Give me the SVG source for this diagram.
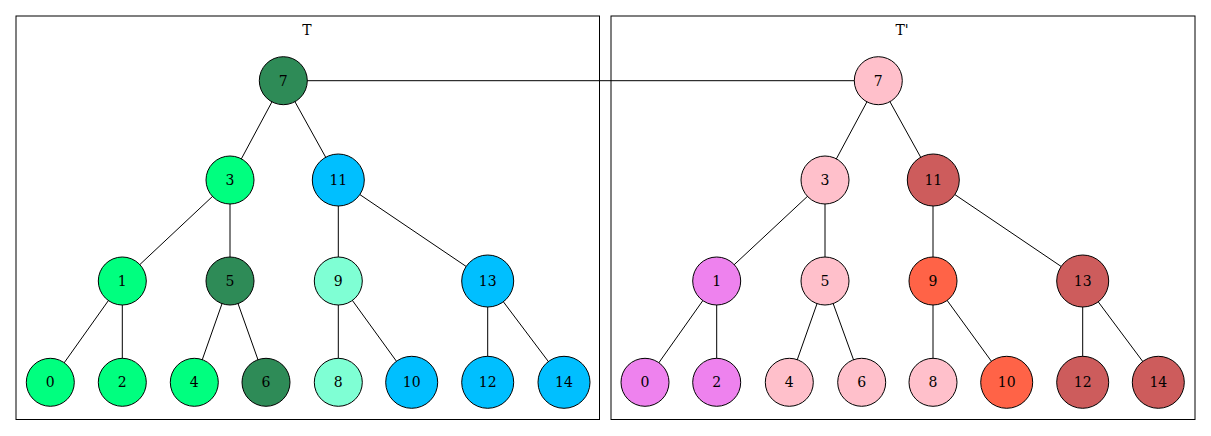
<svg xmlns="http://www.w3.org/2000/svg" width="1211" height="436" viewBox="0 0 1211 436">
<style>
.cl{fill:none;stroke:#000;stroke-width:1}
.e{stroke:#000;stroke-width:1}
.n circle{stroke:#000;stroke-width:1}
text{font-family:"DejaVu Serif","Liberation Serif",serif;font-size:14px;text-anchor:middle;fill:#000}
</style>
<rect width="1211" height="436" fill="#fff"/>
<g id="clusters">
<rect class="cl" x="16" y="16" width="583.5" height="403.5"/>
<text x="307" y="35">T</text>
<rect class="cl" x="611" y="16" width="584" height="403.5"/>
<text x="902" y="35">T'</text>
</g>
<g id="connectors">
<line class="e" x1="283.3" y1="80.7" x2="878.3" y2="80.7"/>
<line class="e" x1="283.3" y1="80.7" x2="230" y2="180"/>
<line class="e" x1="283.3" y1="80.7" x2="338.3" y2="180"/>
<line class="e" x1="230" y1="180" x2="122.3" y2="281"/>
<line class="e" x1="230" y1="180" x2="230" y2="281"/>
<line class="e" x1="338.3" y1="180" x2="338.3" y2="281"/>
<line class="e" x1="338.3" y1="180" x2="487.7" y2="281"/>
<line class="e" x1="122.3" y1="281" x2="50.3" y2="382.3"/>
<line class="e" x1="122.3" y1="281" x2="122.3" y2="382.3"/>
<line class="e" x1="230" y1="281" x2="194.3" y2="382.3"/>
<line class="e" x1="230" y1="281" x2="266" y2="382.3"/>
<line class="e" x1="338.3" y1="281" x2="338.3" y2="382.3"/>
<line class="e" x1="338.3" y1="281" x2="411.7" y2="382.3"/>
<line class="e" x1="487.7" y1="281" x2="487.7" y2="382.3"/>
<line class="e" x1="487.7" y1="281" x2="564" y2="382.3"/>
<line class="e" x1="878.3" y1="80.7" x2="825" y2="180"/>
<line class="e" x1="878.3" y1="80.7" x2="933.3" y2="180"/>
<line class="e" x1="825" y1="180" x2="716.7" y2="281"/>
<line class="e" x1="825" y1="180" x2="825" y2="281"/>
<line class="e" x1="933" y1="180" x2="933" y2="281"/>
<line class="e" x1="933.3" y1="180" x2="1082.7" y2="281"/>
<line class="e" x1="716.7" y1="281" x2="645" y2="382.3"/>
<line class="e" x1="716.7" y1="281" x2="716.7" y2="382.3"/>
<line class="e" x1="825" y1="281" x2="789.3" y2="382.3"/>
<line class="e" x1="825" y1="281" x2="861.7" y2="382.3"/>
<line class="e" x1="933" y1="281" x2="933" y2="382.3"/>
<line class="e" x1="933" y1="281" x2="1006.7" y2="382.3"/>
<line class="e" x1="1082.7" y1="281" x2="1082.7" y2="382.3"/>
<line class="e" x1="1082.7" y1="281" x2="1158.3" y2="382.3"/>
</g>
<g id="T7" class="n"><circle cx="283.3" cy="80.7" r="24" fill="#2e8b57"/><text x="283.3" y="85.7">7</text></g>
<g id="T3" class="n"><circle cx="230" cy="180" r="24" fill="#00ff7f"/><text x="230" y="185">3</text></g>
<g id="T11" class="n"><circle cx="338.3" cy="180" r="26" fill="#00bfff"/><text x="338.3" y="185">11</text></g>
<g id="T1" class="n"><circle cx="122.3" cy="281" r="24" fill="#00ff7f"/><text x="122.3" y="286">1</text></g>
<g id="T5" class="n"><circle cx="230" cy="281" r="24" fill="#2e8b57"/><text x="230" y="286">5</text></g>
<g id="T9" class="n"><circle cx="338.3" cy="281" r="24" fill="#7fffd4"/><text x="338.3" y="286">9</text></g>
<g id="T13" class="n"><circle cx="487.7" cy="281" r="26" fill="#00bfff"/><text x="487.7" y="286">13</text></g>
<g id="T0" class="n"><circle cx="50.3" cy="382.3" r="24" fill="#00ff7f"/><text x="50.3" y="387.3">0</text></g>
<g id="T2" class="n"><circle cx="122.3" cy="382.3" r="24" fill="#00ff7f"/><text x="122.3" y="387.3">2</text></g>
<g id="T4" class="n"><circle cx="194.3" cy="382.3" r="24" fill="#00ff7f"/><text x="194.3" y="387.3">4</text></g>
<g id="T6" class="n"><circle cx="266" cy="382.3" r="24" fill="#2e8b57"/><text x="266" y="387.3">6</text></g>
<g id="T8" class="n"><circle cx="338.3" cy="382.3" r="24" fill="#7fffd4"/><text x="338.3" y="387.3">8</text></g>
<g id="T10" class="n"><circle cx="411.7" cy="382.3" r="26" fill="#00bfff"/><text x="411.7" y="387.3">10</text></g>
<g id="T12" class="n"><circle cx="487.7" cy="382.3" r="26" fill="#00bfff"/><text x="487.7" y="387.3">12</text></g>
<g id="T14" class="n"><circle cx="564" cy="382.3" r="26" fill="#00bfff"/><text x="564" y="387.3">14</text></g>
<g id="P7" class="n"><circle cx="878.3" cy="80.7" r="24" fill="#ffc0cb"/><text x="878.3" y="85.7">7</text></g>
<g id="P3" class="n"><circle cx="825" cy="180" r="24" fill="#ffc0cb"/><text x="825" y="185">3</text></g>
<g id="P11" class="n"><circle cx="933.3" cy="180" r="26" fill="#cd5c5c"/><text x="933.3" y="185">11</text></g>
<g id="P1" class="n"><circle cx="716.7" cy="281" r="24" fill="#ee82ee"/><text x="716.7" y="286">1</text></g>
<g id="P5" class="n"><circle cx="825" cy="281" r="24" fill="#ffc0cb"/><text x="825" y="286">5</text></g>
<g id="P9" class="n"><circle cx="933" cy="281" r="24" fill="#ff6347"/><text x="933" y="286">9</text></g>
<g id="P13" class="n"><circle cx="1082.7" cy="281" r="26" fill="#cd5c5c"/><text x="1082.7" y="286">13</text></g>
<g id="P0" class="n"><circle cx="645" cy="382.3" r="24" fill="#ee82ee"/><text x="645" y="387.3">0</text></g>
<g id="P2" class="n"><circle cx="716.7" cy="382.3" r="24" fill="#ee82ee"/><text x="716.7" y="387.3">2</text></g>
<g id="P4" class="n"><circle cx="789.3" cy="382.3" r="24" fill="#ffc0cb"/><text x="789.3" y="387.3">4</text></g>
<g id="P6" class="n"><circle cx="861.7" cy="382.3" r="24" fill="#ffc0cb"/><text x="861.7" y="387.3">6</text></g>
<g id="P8" class="n"><circle cx="933" cy="382.3" r="24" fill="#ffc0cb"/><text x="933" y="387.3">8</text></g>
<g id="P10" class="n"><circle cx="1006.7" cy="382.3" r="26" fill="#ff6347"/><text x="1006.7" y="387.3">10</text></g>
<g id="P12" class="n"><circle cx="1082.7" cy="382.3" r="26" fill="#cd5c5c"/><text x="1082.7" y="387.3">12</text></g>
<g id="P14" class="n"><circle cx="1158.3" cy="382.3" r="26" fill="#cd5c5c"/><text x="1158.3" y="387.3">14</text></g>
</svg>
